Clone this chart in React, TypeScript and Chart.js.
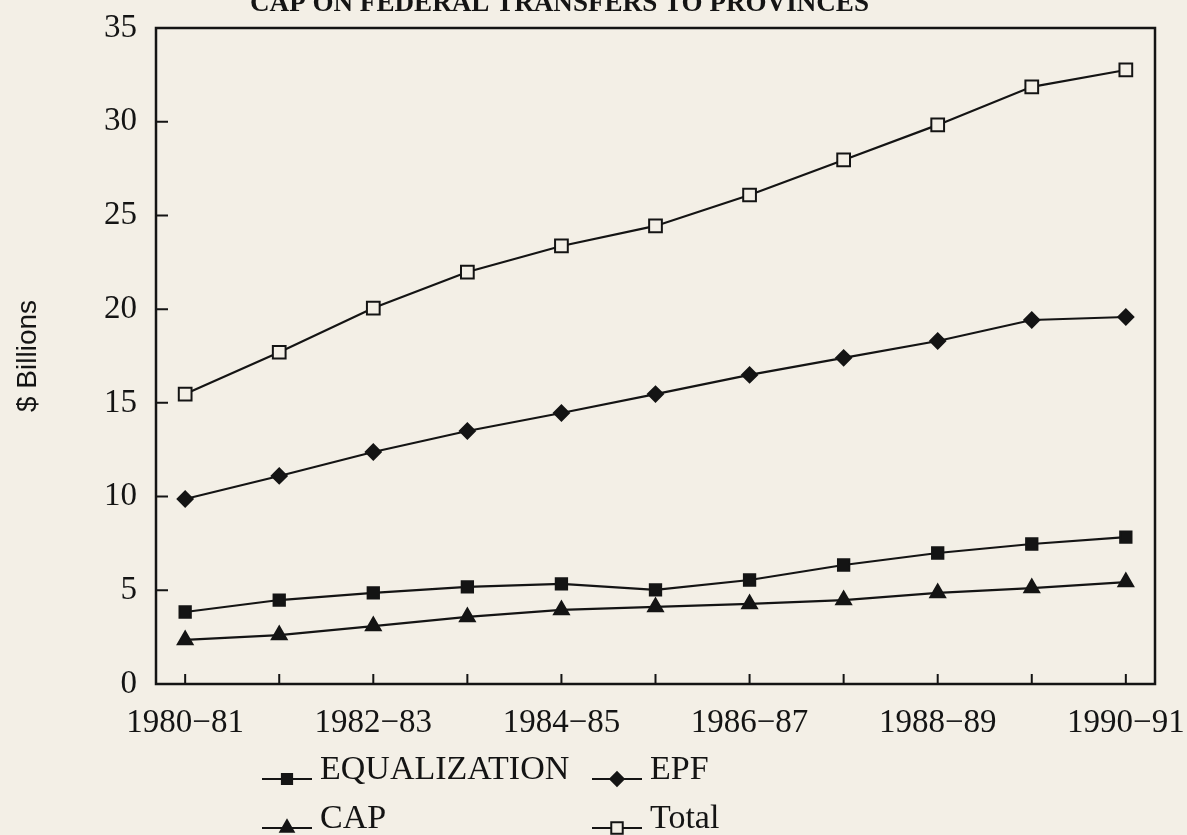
import React, { useEffect, useRef } from "react";
import { Chart, registerables } from "chart.js";

Chart.register(...registerables);

const categories = [
  "1980−81", "1981−82", "1982−83", "1983−84", "1984−85", "1985−86",
  "1986−87", "1987−88", "1988−89", "1989−90", "1990−91",
];
const labelledTicks = [0, 2, 4, 6, 8, 10];
const yTicks = [0, 5, 10, 15, 20, 25, 30, 35];

const equalization = [3.84, 4.48, 4.86, 5.18, 5.34, 5.02, 5.55, 6.35, 6.99, 7.47, 7.84];
const epf = [9.87, 11.1, 12.38, 13.5, 14.46, 15.47, 16.49, 17.4, 18.3, 19.42, 19.58];
const cap = [2.35, 2.61, 3.09, 3.58, 3.95, 4.11, 4.27, 4.48, 4.86, 5.12, 5.44];
const total = [15.47, 17.7, 20.06, 21.98, 23.37, 24.44, 26.09, 27.96, 29.83, 31.86, 32.76];

const seriesNames = ["EQUALIZATION", "EPF", "CAP", "Total"];
const titleText = "CAP ON FEDERAL TRANSFERS TO PROVINCES";
const yTitle = "$ Billions";

const PAPER = "#f3efe6";
const INK = "#141414";
const SERIF = "'Liberation Serif', 'Times New Roman', serif";

function toXY(arr: number[]) {
  return arr.map((v, i) => ({ x: i, y: v }));
}

function drawMarker(ctx: CanvasRenderingContext2D, style: string, x: number, y: number, r: number, fill: string) {
  ctx.save();
  ctx.beginPath();
  if (style === "rect") {
    const s = Math.SQRT1_2 * r;
    ctx.rect(x - s, y - s, 2 * s, 2 * s);
  } else if (style === "rectRot") {
    ctx.moveTo(x, y - r);
    ctx.lineTo(x + r, y);
    ctx.lineTo(x, y + r);
    ctx.lineTo(x - r, y);
    ctx.closePath();
  } else if (style === "triangle") {
    ctx.moveTo(x, y - r);
    ctx.lineTo(x + r * 0.866, y + r * 0.5);
    ctx.lineTo(x - r * 0.866, y + r * 0.5);
    ctx.closePath();
  }
  ctx.fillStyle = fill;
  ctx.fill();
  ctx.lineWidth = 2;
  ctx.strokeStyle = INK;
  ctx.stroke();
  ctx.restore();
}

const paperPlugin = {
  id: "paper",
  beforeDraw(chart: any) {
    const ctx = chart.ctx;
    ctx.save();
    ctx.fillStyle = PAPER;
    ctx.fillRect(0, 0, chart.width, chart.height);
    ctx.restore();
  },
};

const framePlugin = {
  id: "frame",
  beforeDatasetsDraw(chart: any) {
    const { ctx, chartArea } = chart;
    const { left, right, top, bottom } = chartArea;
    const xs = chart.scales.x;
    const ys = chart.scales.y;
    ctx.save();
    ctx.strokeStyle = INK;
    ctx.lineWidth = 2.5;
    ctx.strokeRect(left, top, right - left, bottom - top);
    ctx.lineWidth = 2;
    ctx.beginPath();
    yTicks.forEach((v) => {
      const py = ys.getPixelForValue(v);
      ctx.moveTo(left, py);
      ctx.lineTo(left + 12, py);
    });
    categories.forEach((_, i) => {
      const px = xs.getPixelForValue(i);
      ctx.moveTo(px, bottom);
      ctx.lineTo(px, bottom - 10);
    });
    ctx.stroke();
    ctx.restore();
  },
  afterDraw(chart: any) {
    const ctx = chart.ctx;
    ctx.save();
    // title, cut off by the top edge as in the scan
    ctx.fillStyle = INK;
    ctx.textBaseline = "alphabetic";
    ctx.textAlign = "left";
    ctx.font = `bold 26px ${SERIF}`;
    const w = ctx.measureText(titleText).width;
    const size = 26 * 620 / w;
    ctx.font = `bold ${size.toFixed(1)}px ${SERIF}`;
    ctx.fillText(titleText, 250, 11);

    // legend
    const slots = [
      { x: 262, y: 779 },
      { x: 592, y: 779 },
      { x: 262, y: 828 },
      { x: 592, y: 828 },
    ];
    chart.data.datasets.forEach((ds: any, i: number) => {
      const s = slots[i];
      ctx.strokeStyle = INK;
      ctx.lineWidth = 2;
      ctx.beginPath();
      ctx.moveTo(s.x, s.y);
      ctx.lineTo(s.x + 50, s.y);
      ctx.stroke();
      drawMarker(ctx, ds.pointStyle, s.x + 25, s.y, ds.pointRadius * 0.9, ds.pointBackgroundColor);
      ctx.fillStyle = INK;
      ctx.font = `34px ${SERIF}`;
      ctx.textBaseline = "alphabetic";
      ctx.fillText(ds.label, s.x + 58, s.y);
    });
    ctx.restore();
  },
};

export default function App() {
  const ref = useRef<HTMLCanvasElement>(null);
  useEffect(() => {
    if (!ref.current) return;
    const common = {
      borderColor: INK,
      borderWidth: 2.2,
      tension: 0,
      pointBorderColor: INK,
      pointBorderWidth: 2,
      fill: false,
    };
    const chart = new Chart(ref.current, {
      type: "line",
      data: {
        datasets: [
          { ...common, label: seriesNames[0], data: toXY(equalization), pointStyle: "rect", pointRadius: 8, pointBackgroundColor: INK },
          { ...common, label: seriesNames[1], data: toXY(epf), pointStyle: "rectRot", pointRadius: 7.5, pointBackgroundColor: INK },
          { ...common, label: seriesNames[2], data: toXY(cap), pointStyle: "triangle", pointRadius: 8.5, pointBackgroundColor: INK },
          { ...common, label: seriesNames[3], data: toXY(total), pointStyle: "rect", pointRadius: 9, pointBackgroundColor: PAPER },
        ],
      },
      options: {
        responsive: false,
        animation: false,
        layout: { padding: { left: 11, right: 32, top: 28, bottom: 0 } },
        plugins: {
          legend: { display: false },
          title: { display: false },
          tooltip: { enabled: false },
        },
        scales: {
          x: {
            type: "linear",
            min: -0.31,
            max: 10.31,
            grid: { display: false, drawTicks: false },
            border: { display: false },
            afterBuildTicks: (scale: any) => {
              scale.ticks = labelledTicks.map((v) => ({ value: v }));
            },
            afterFit: (scale: any) => {
              scale.height = 151;
              scale.paddingLeft = 0;
              scale.paddingRight = 0;
            },
            ticks: {
              autoSkip: false,
              maxRotation: 0,
              padding: 20,
              color: INK,
              font: { family: SERIF, size: 33 },
              callback: (v: any) => categories[Number(v)] ?? "",
            },
          },
          y: {
            min: 0,
            max: 35,
            grid: { display: false, drawTicks: false },
            border: { display: false },
            afterFit: (scale: any) => {
              scale.width = 145;
              scale.paddingTop = 0;
              scale.paddingBottom = 0;
            },
            ticks: {
              stepSize: 5,
              padding: 19,
              color: INK,
              font: { family: SERIF, size: 33 },
            },
            title: {
              display: true,
              text: yTitle,
              color: INK,
              padding: 0,
              font: { family: "'Liberation Sans', Arial, sans-serif", size: 28 },
            },
          },
        },
      },
      plugins: [paperPlugin, framePlugin],
    } as any);
    return () => chart.destroy();
  }, []);
  return (
    <canvas
      ref={ref}
      width={1187}
      height={835}
      style={{ position: "fixed", left: 0, top: 0, display: "block" }}
    />
  );
}
